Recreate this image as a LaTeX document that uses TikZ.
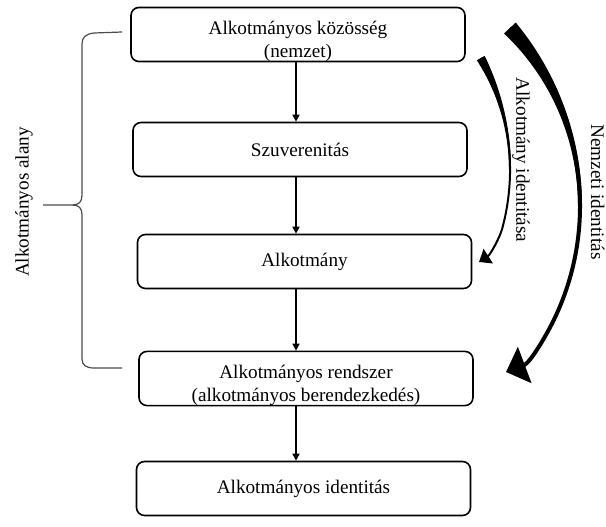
\documentclass[tikz,border=0pt]{standalone}
\usepackage{fontspec}
\setmainfont{Liberation Serif}
\usetikzlibrary{arrows.meta}

\begin{document}
\begin{tikzpicture}[x=0.5pt,y=0.5pt,font=\fontsize{9.6}{11.5}\selectfont]
      \useasboundingbox (0,0) rectangle (606,526);

      \begin{scope}[every node/.style={draw, rounded corners=4pt, line width=0.8pt,
          minimum width=167pt, minimum height=27pt, align=center, inner sep=0pt}]
        \node (1) at (298,491.5) {\rule{0pt}{13.5pt}Alkotmányos közösség\\(nemzet)};
        \node (2) at (300,376.5) {Szuverenitás};
        \node (3) at (304.5,264.5) {Alkotmány};
        \node (4) at (306,147.5) {\rule{0pt}{13.5pt}Alkotmányos rendszer\\(alkotmányos berendezkedés)};
        \node (5) at (303.5,37.5) {Alkotmányos identitás};
      \end{scope}

      \coordinate (s) at (296,0);
      \begin{scope}[every edge/.style={draw, line width=0.75pt, -{Triangle[length=3.5pt,width=3.5pt]}}]
        \path (1.south -| s) edge (2.north -| s);
        \path (2.south -| s) edge (3.north -| s);
        \path (3.south -| s) edge (4.north -| s);
        \path (4.south -| s) edge (5.north -| s);
      \end{scope}

      % brace on the left
      \draw[line width=0.6pt, black!70] (122,494) -- (94,493) .. controls (86,492) and (82,489) .. (82,482)
        -- (82,331) .. controls (82,324) and (79,321) .. (72,321) -- (43,321)
        -- (72,321) .. controls (79,321) and (82,318) .. (82,311)
        -- (82,167) .. controls (82,161) and (86,158) .. (94,158) -- (122,158);
      \node[rotate=90] (alany) at (24,324) {Alkotmányos alany};

      % curved arrows on the right
      \coordinate (n) at (509.9,498);
      \coordinate (nt) at (506,154);
      \coordinate (a) at (480.8,467.9);
      \coordinate (at) at (479,264);
      \begin{scope}[fill=black]
        \fill plot[domain=43:0, samples=30] ({319+(263+6*(\x/43)^2)*cos(\x)}, {320+(263+6*(\x/43)^2)*sin(\x)})
          -- plot[domain=0:43, samples=30] ({319+(259-6*(\x/43)^2)*cos(\x)}, {320+(259-6*(\x/43)^2)*sin(\x)}) -- cycle;
        \draw[line width=2pt, -{Triangle[length=10pt,width=19pt]}] (n) arc[start angle=43, end angle=-25, radius=261]
          .. controls (546.5,190.4) and (530,163) .. (nt);
        \fill plot[domain=29.4:0, samples=30] ({283+(228+3.5*(\x/29.4)^2)*cos(\x)}, {356.5+(228+3.5*(\x/29.4)^2)*sin(\x)})
          -- plot[domain=0:29.4, samples=30] ({283+(226-3.5*(\x/29.4)^2)*cos(\x)}, {356.5+(226-3.5*(\x/29.4)^2)*sin(\x)}) -- cycle;
        \draw[line width=1pt, -{Triangle[length=5.5pt,width=8.5pt]}] (a) arc[start angle=29.4, end angle=-15, radius=227]
          .. controls (499.7,288) and (490,271) .. (at);
      \end{scope}
      \node[rotate=-90] (ai) at (521,366) {Alkotmány identitása};
      \node[rotate=-90, anchor=base] (ni) at (591,334) {Nemzeti identitás};

    \end{tikzpicture}
\end{document}
